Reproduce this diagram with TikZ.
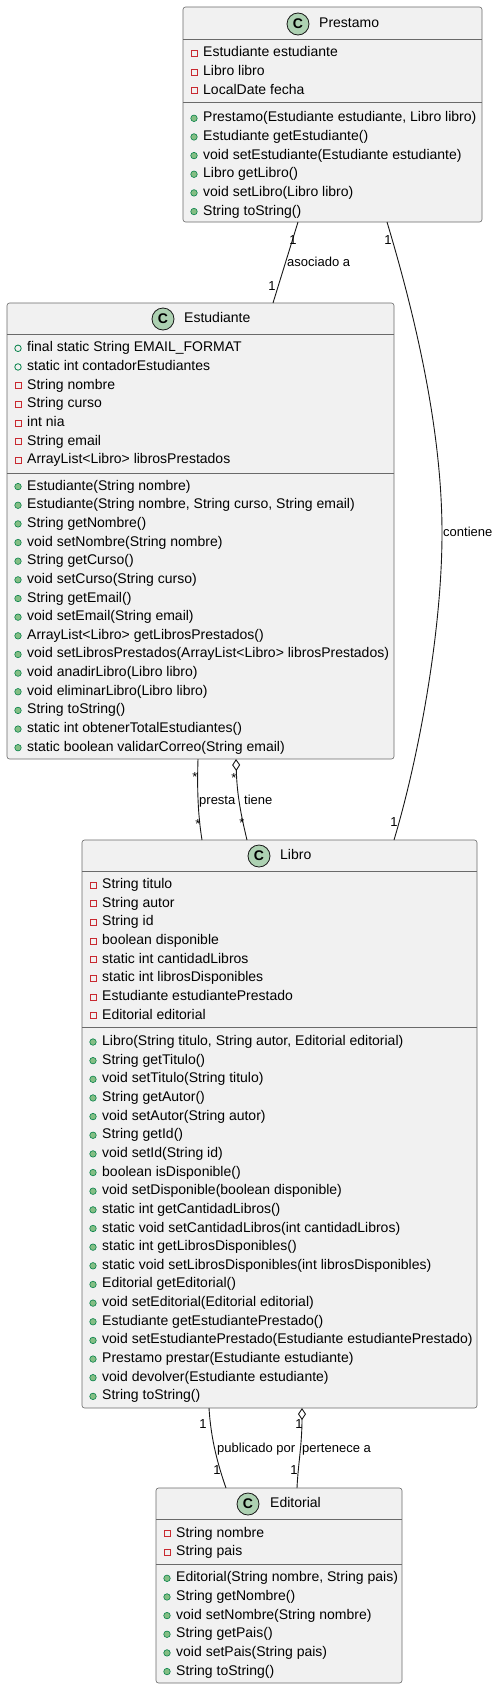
\documentclass[tikz,border=0pt]{standalone}
\usepackage{fontspec}
\setmainfont{Liberation Sans}
\usetikzlibrary{calc,arrows.meta}
\definecolor{boxfill}{HTML}{F1F1F1}
\definecolor{boxline}{HTML}{181818}
\definecolor{sepcol}{HTML}{6A6A6A}
\definecolor{badge}{HTML}{ADD1B2}
\definecolor{privred}{HTML}{C82930}
\definecolor{pubgreen}{HTML}{038048}
\definecolor{methfill}{HTML}{84BE84}
\tikzset{
 classbox/.style={draw=sepcol, fill=boxfill, line width=0.6pt, rounded corners=2.5pt, inner sep=0pt, outer sep=0pt, anchor=north west},
 sepline/.style={draw=sepcol, line width=0.6pt},
 cbadge/.style={circle, draw=boxline, fill=badge, line width=0.8pt, minimum size=22pt, inner sep=0pt, font=\fontsize{14}{14}\selectfont\bfseries},
 ctitle/.style={anchor=west, inner sep=0pt, text height=10pt, text depth=3pt, font=\fontsize{14}{16}\selectfont},
 row/.style={anchor=west, inner sep=0pt, text height=10pt, text depth=3pt, font=\fontsize{14}{16}\selectfont},
 priv/.style={rectangle, draw=privred, line width=0.8pt, minimum size=6pt, inner sep=0pt},
 pubf/.style={circle, draw=pubgreen, line width=0.8pt, minimum size=6.5pt, inner sep=0pt},
 meth/.style={circle, draw=pubgreen, fill=methfill, line width=0.6pt, minimum size=6.5pt, inner sep=0pt},
 assoc/.style={draw=boxline, line width=0.9pt},
 lbl/.style={inner sep=0pt, text height=9.5pt, text depth=3pt, font=\fontsize{13}{15}\selectfont},
 lblw/.style={lbl, anchor=west},
 agg/.style={{Diamond[open, length=12pt, width=8pt]}-},
}
\begin{document}
\begin{tikzpicture}[x=1pt, y=-1pt]
\useasboundingbox (0,0) rectangle (498,1689);
\fill[white] (0,0) rectangle (498,1689);

% ---------------- Prestamo
\node[classbox, minimum width=299pt, minimum height=215pt] (prestamo) at (183,7) {};
\draw[sepline] (183,39.3) -- (482,39.3);
\draw[sepline] (183,102.3) -- (482,102.3);
\node[cbadge] (prestamo-c) at (298,24) {C};
\node[ctitle] (prestamo-t) at (319,24) {Prestamo};
\foreach \k/\t [count=\i from 0] in {priv/Estudiante estudiante, priv/Libro libro, priv/LocalDate fecha} {
  \node[\k, name=pre-ai\i] at (194,{53.3+\i*18.65}) {};
  \node[row, name=pre-a\i] at (203,{53.3+\i*18.65}) {\t};
}
\foreach \t [count=\i from 0] in {{Prestamo(Estudiante estudiante, Libro libro)}, Estudiante getEstudiante(), void setEstudiante(Estudiante estudiante), Libro getLibro(), void setLibro(Libro libro), String toString()} {
  \node[meth, name=pre-mi\i] at (194,{118.3+\i*18.65}) {};
  \node[row, name=pre-m\i] at (203,{118.3+\i*18.65}) {\t};
}

% ---------------- Estudiante
\node[classbox, minimum width=387pt, minimum height=456pt] (estudiante) at (7,303) {};
\draw[sepline] (7,334.3) -- (394,334.3);
\draw[sepline] (7,472.8) -- (394,472.8);
\node[cbadge] (estudiante-c) at (163,319) {C};
\node[ctitle] (estudiante-t) at (184,319) {Estudiante};
\foreach \k/\t [count=\i from 0] in {pubf/final static String EMAIL\_FORMAT, pubf/static int contadorEstudiantes, priv/String nombre, priv/String curso, priv/int nia, priv/String email, priv/ArrayList<Libro> librosPrestados} {
  \node[\k, name=est-ai\i] at (18,{348.3+\i*18.65}) {};
  \node[row, name=est-a\i] at (27,{348.3+\i*18.65}) {\t};
}
\foreach \t [count=\i from 0] in {Estudiante(String nombre), {Estudiante(String nombre, String curso, String email)}, String getNombre(), void setNombre(String nombre), String getCurso(), void setCurso(String curso), String getEmail(), void setEmail(String email), ArrayList<Libro> getLibrosPrestados(), void setLibrosPrestados(ArrayList<Libro> librosPrestados), void anadirLibro(Libro libro), void eliminarLibro(Libro libro), String toString(), static int obtenerTotalEstudiantes(), static boolean validarCorreo(String email)} {
  \node[meth, name=est-mi\i] at (18,{486.6+\i*18.65}) {};
  \node[row, name=est-m\i] at (27,{486.6+\i*18.65}) {\t};
}

% ---------------- Libro
\node[classbox, minimum width=395pt, minimum height=568pt] (libro) at (82,840) {};
\draw[sepline] (82,871.7) -- (477,871.7);
\draw[sepline] (82,1027.3) -- (477,1027.3);
\node[cbadge] (libro-c) at (259,856) {C};
\node[ctitle] (libro-t) at (280,856) {Libro};
\foreach \t [count=\i from 0] in {String titulo, String autor, String id, boolean disponible, static int cantidadLibros, static int librosDisponibles, Estudiante estudiantePrestado, Editorial editorial} {
  \node[priv, name=lib-ai\i] at (93,{885+\i*18.65}) {};
  \node[row, name=lib-a\i] at (102,{885+\i*18.65}) {\t};
}
\foreach \t [count=\i from 0] in {{Libro(String titulo, String autor, Editorial editorial)}, String getTitulo(), void setTitulo(String titulo), String getAutor(), void setAutor(String autor), String getId(), void setId(String id), boolean isDisponible(), void setDisponible(boolean disponible), static int getCantidadLibros(), static void setCantidadLibros(int cantidadLibros), static int getLibrosDisponibles(), static void setLibrosDisponibles(int librosDisponibles), Editorial getEditorial(), void setEditorial(Editorial editorial), Estudiante getEstudiantePrestado(), void setEstudiantePrestado(Estudiante estudiantePrestado), Prestamo prestar(Estudiante estudiante), void devolver(Estudiante estudiante), String toString()} {
  \node[meth, name=lib-mi\i] at (93,{1042+\i*18.65}) {};
  \node[row, name=lib-m\i] at (102,{1042+\i*18.65}) {\t};
}

% ---------------- Editorial
\node[classbox, minimum width=246pt, minimum height=195pt] (editorial) at (156,1488) {};
\draw[sepline] (156,1519.5) -- (402,1519.5);
\draw[sepline] (156,1564) -- (402,1564);
\node[cbadge] (editorial-c) at (248,1504) {C};
\node[ctitle] (editorial-t) at (270,1504) {Editorial};
\foreach \t [count=\i from 0] in {String nombre, String pais} {
  \node[priv, name=edi-ai\i] at (167,{1533.5+\i*18.65}) {};
  \node[row, name=edi-a\i] at (176,{1533.5+\i*18.65}) {\t};
}
\foreach \t [count=\i from 0] in {{Editorial(String nombre, String pais)}, String getNombre(), void setNombre(String nombre), String getPais(), void setPais(String pais), String toString()} {
  \node[meth, name=edi-mi\i] at (167,{1578.3+\i*18.65}) {};
  \node[row, name=edi-m\i] at (176,{1578.3+\i*18.65}) {\t};
}

% ---------------- Connectors
% asociado a
\draw[assoc] ($(prestamo.south west)+(115,0)$) -- ($(estudiante.north west)+(266,0)$);
\node[lbl] (l-as1) at (293,241) {1};
\node[lbl] (l-as2) at (272,287) {1};
\node[lblw] (l-as) at (287,263) {asociado a};

% contiene
\coordinate (cmid) at (442,533);
\draw[assoc] ($(prestamo.south west)+(204,0)$) .. controls (417,322) and (442,433) .. (cmid)
  .. controls (442,633) and (418,760) .. ($(libro.north west)+(312,0)$);
\node[lbl] (l-co1) at (388,241) {1};
\node[lbl] (l-co2) at (394,823) {1};
\node[lblw] (l-co) at (443,533) {contiene};

% presta
\draw[assoc] ($(estudiante.south west)+(191,0)$) .. controls (197,790) and (198,815) .. ($(libro.north west)+(120,0)$);
\node[lbl] (l-pr1) at (195,778) {*};
\node[lbl] (l-pr2) at (198,825) {*};
\node[lblw] (l-pr) at (199,801) {presta};

% tiene
\draw[assoc, agg] ($(estudiante.south west)+(229,0)$) .. controls (237,795) and (241,815) .. ($(libro.north west)+(165,0)$);
\node[lbl] (l-ti1) at (234,779) {*};
\node[lbl] (l-ti2) at (242,824) {*};
\node[lblw] (l-ti) at (244,801) {tiene};

% publicado por
\draw[assoc] ($(libro.south west)+(127,0)$) .. controls (211,1440) and (218,1465) .. ($(editorial.north west)+(70,0)$);
\node[lbl] (l-pu1) at (203,1425) {1};
\node[lbl] (l-pu2) at (217,1471) {1};
\node[lblw] (l-pu) at (217,1449) {publicado por};

% pertenece a
\draw[assoc, agg] ($(libro.south west)+(220,0)$) .. controls (302,1445) and (298,1465) .. ($(editorial.north west)+(141,0)$);
\node[lbl] (l-pe1) at (299,1425) {1};
\node[lbl] (l-pe2) at (294,1471) {1};
\node[lblw] (l-pe) at (302,1449) {pertenece a};
\end{tikzpicture}
\end{document}
